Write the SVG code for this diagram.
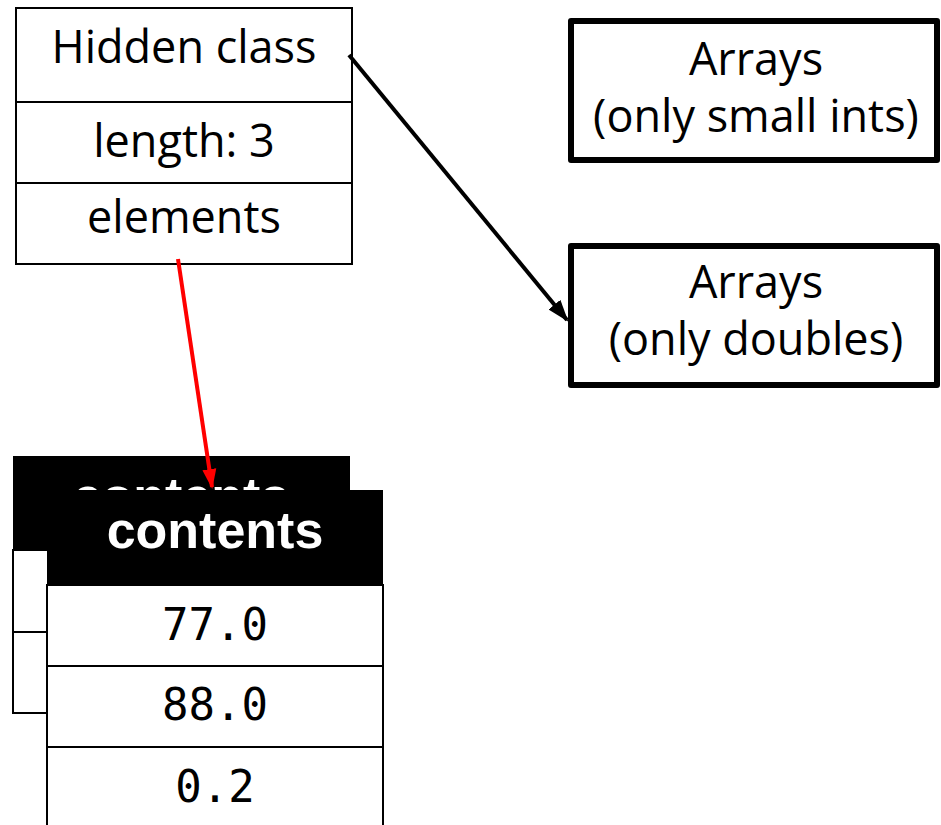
<svg xmlns="http://www.w3.org/2000/svg" width="941" height="825" viewBox="0 0 941 825">
  <style>
    .cell { fill: #ffffff; stroke: #000000; stroke-width: 2; }
    .kind { fill: #ffffff; stroke: #000000; stroke-width: 6; stroke-linejoin: round; }
    .head { fill: #000000; }
    .label { font-family: "Open Sans", "Noto Sans", sans-serif; font-size: 45px; fill: #000000; text-anchor: middle; }
    .title { font-family: "Liberation Sans", Arial, sans-serif; font-weight: bold; font-size: 52px; fill: #ffffff; text-anchor: middle; }
    .num { font-family: "DejaVu Sans Mono", monospace; font-size: 44px; fill: #000000; text-anchor: middle; }
    .link { fill: none; stroke-width: 4; }
  </style>
  <defs>
    <marker id="headBlack" viewBox="0 0 10 10" refX="9" refY="5" markerWidth="5.5" markerHeight="5.5" orient="auto" markerUnits="strokeWidth">
      <path d="M0,1.5 L10,5 L0,8.5 Z" fill="#000000"/>
    </marker>
    <marker id="headRed" viewBox="0 0 10 10" refX="9" refY="5" markerWidth="5" markerHeight="5" orient="auto" markerUnits="strokeWidth">
      <path d="M0,1.5 L10,5 L0,8.5 Z" fill="#ff0000"/>
    </marker>
  </defs>

  <!-- array object: map pointer, length, elements pointer -->
  <g id="array-object">
    <rect class="cell" x="16" y="8" width="336" height="94"/>
    <rect class="cell" x="16" y="102" width="336" height="81"/>
    <rect class="cell" x="16" y="183" width="336" height="81"/>
    <text class="label" x="184" y="63">Hidden class</text>
    <text class="label" x="184" y="157">length: 3</text>
    <text class="label" x="184" y="233">elements</text>
  </g>

  <!-- elements kinds -->
  <g id="kind-smi">
    <rect class="kind" x="571" y="21" width="366" height="139"/>
    <text class="label" x="756" y="75">Arrays</text>
    <text class="label" x="756" y="132">(only small ints)</text>
  </g>
  <g id="kind-double">
    <rect class="kind" x="571" y="246" width="366" height="139"/>
    <text class="label" x="756" y="298">Arrays</text>
    <text class="label" x="756" y="355">(only doubles)</text>
  </g>

  <!-- old backing store (two slots), mostly covered by the new one -->
  <g id="store-old">
    <rect class="head" x="13" y="456" width="337" height="94"/>
    <text class="title" x="181" y="514">contents</text>
    <rect class="cell" x="13" y="550" width="337" height="82"/>
    <rect class="cell" x="13" y="632" width="337" height="81"/>
  </g>

  <!-- new backing store (three slots) -->
  <g id="store-new">
    <rect class="head" x="47" y="490" width="336" height="95"/>
    <text class="title" x="215" y="548">contents</text>
    <rect class="cell" x="47" y="585" width="336" height="81"/>
    <rect class="cell" x="47" y="666" width="336" height="81"/>
    <rect class="cell" x="47" y="747" width="336" height="90"/>
    <text class="num" x="215" y="640">77.0</text>
    <text class="num" x="215" y="720">88.0</text>
    <text class="num" x="215" y="802">0.2</text>
  </g>

  <g id="connectors">
    <line class="link" x1="349" y1="55" x2="567" y2="320" stroke="#000000" marker-end="url(#headBlack)"/>
    <line class="link" x1="178" y1="259" x2="212" y2="487" stroke="#ff0000" marker-end="url(#headRed)"/>
  </g>
</svg>
